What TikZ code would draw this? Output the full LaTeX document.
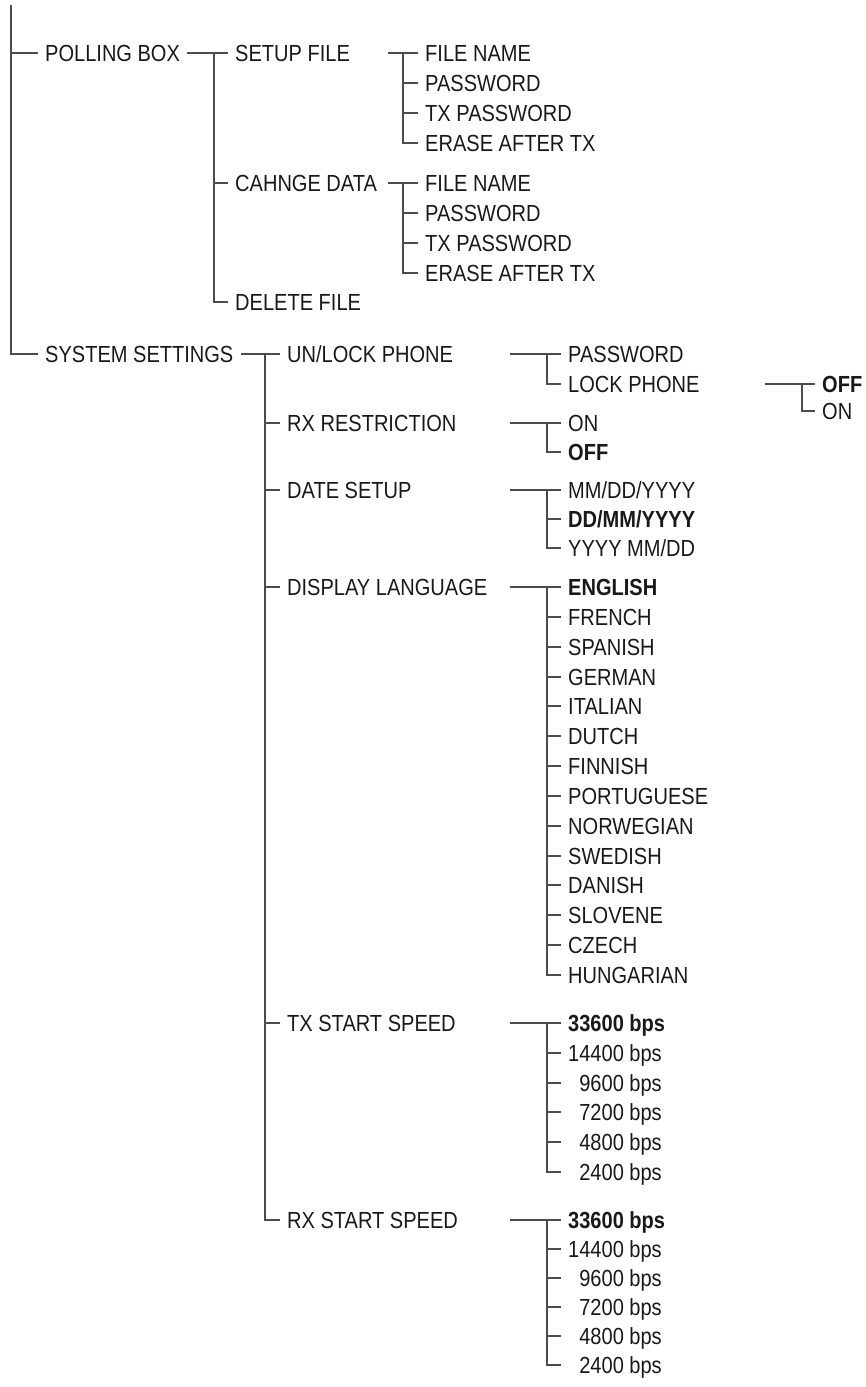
\documentclass[tikz,border=0pt]{standalone}
\usepackage{fontspec}
\setmainfont[FakeStretch=0.86]{Liberation Sans}
\usepackage{tikz}

\begin{document}
\begin{tikzpicture}[x=1pt, y=-1pt,
		branch/.style={draw=black!70, line width=1.2pt},
		item/.style={anchor=west, inner xsep=7pt, inner ysep=0pt, text height=16.7pt, text depth=0pt, text=black!90, font=\fontsize{23.3}{28}\selectfont}]
		\useasboundingbox (0,0) rectangle (865,1387);
		\coordinate (top) at (11,5);
		\coordinate (v2) at (214,0);
		\coordinate (s3) at (388,0);
		\coordinate (v3) at (403,0);
		\coordinate (v4) at (265,0);
		\coordinate (s5) at (510,0);
		\coordinate (v5) at (547,0);
		\coordinate (s6) at (765,0);
		\coordinate (v6) at (802,0);
		\node[item] (pb) at (38,53) {POLLING BOX};
		\node[item] (sf) at (228,53) {SETUP FILE};
		\node[item] (cd) at (228,183) {CAHNGE DATA};
		\node[item] (df) at (228,302) {DELETE FILE};
		\node[item] (fn1) at (418,53) {FILE NAME};
		\node[item] (pw1) at (418,83) {PASSWORD};
		\node[item] (tp1) at (418,113) {TX PASSWORD};
		\node[item] (ea1) at (418,143) {ERASE AFTER TX};
		\node[item] (fn2) at (418,183) {FILE NAME};
		\node[item] (pw2) at (418,213) {PASSWORD};
		\node[item] (tp2) at (418,243) {TX PASSWORD};
		\node[item] (ea2) at (418,273) {ERASE AFTER TX};
		\node[item] (ss) at (38,354) {SYSTEM SETTINGS};
		\node[item] (ul) at (280,354) {UN/LOCK PHONE};
		\node[item] (rr) at (280,423) {RX RESTRICTION};
		\node[item] (ds) at (280,490) {DATE SETUP};
		\node[item] (dl) at (280,587) {DISPLAY LANGUAGE};
		\node[item] (ts) at (280,1023) {TX START SPEED};
		\node[item] (rs) at (280,1220) {RX START SPEED};
		\node[item] (pw3) at (561,354) {PASSWORD};
		\node[item] (lk) at (561,384) {LOCK PHONE};
		\node[item] (lkoff) at (815,384) {\textbf{OFF}};
		\node[item] (lkon) at (815,411) {ON};
		\node[item] (rron) at (561,423) {ON};
		\node[item] (rroff) at (561,452) {\textbf{OFF}};
		\node[item] (d1) at (561,490) {MM/DD/YYYY};
		\node[item] (d2) at (561,519) {\textbf{DD/MM/YYYY}};
		\node[item] (d3) at (561,548) {YYYY MM/DD};
		\node[item] (lg1) at (561,587) {\textbf{ENGLISH}};
		\node[item] (lg2) at (561,617) {FRENCH};
		\node[item] (lg3) at (561,647) {SPANISH};
		\node[item] (lg4) at (561,677) {GERMAN};
		\node[item] (lg5) at (561,706) {ITALIAN};
		\node[item] (lg6) at (561,736) {DUTCH};
		\node[item] (lg7) at (561,766) {FINNISH};
		\node[item] (lg8) at (561,796) {PORTUGUESE};
		\node[item] (lg9) at (561,826) {NORWEGIAN};
		\node[item] (lg10) at (561,856) {SWEDISH};
		\node[item] (lg11) at (561,885) {DANISH};
		\node[item] (lg12) at (561,915) {SLOVENE};
		\node[item] (lg13) at (561,945) {CZECH};
		\node[item] (lg14) at (561,975) {HUNGARIAN};
		\node[item] (tx1) at (561,1023) {\textbf{33600 bps}};
		\node[item] (tx2) at (561,1053) {14400 bps};
		\node[item] (tx3) at (561,1083) {\phantom{1}9600 bps};
		\node[item] (tx4) at (561,1112) {\phantom{1}7200 bps};
		\node[item] (tx5) at (561,1142) {\phantom{1}4800 bps};
		\node[item] (tx6) at (561,1172) {\phantom{1}2400 bps};
		\node[item] (rx1) at (561,1220) {\textbf{33600 bps}};
		\node[item] (rx2) at (561,1249) {14400 bps};
		\node[item] (rx3) at (561,1278) {\phantom{1}9600 bps};
		\node[item] (rx4) at (561,1307) {\phantom{1}7200 bps};
		\node[item] (rx5) at (561,1336) {\phantom{1}4800 bps};
		\node[item] (rx6) at (561,1365) {\phantom{1}2400 bps};
		\draw[branch] (top) |- (ss.west);
		\draw[branch] (pb.west -| top) -- (pb.west);
		\draw[branch] (pb.east) -- (sf.west);
		\draw[branch] (sf.west -| v2) |- (df.west);
		\draw[branch] (cd.west -| v2) -- (cd.west);
		\draw[branch] (sf -| s3) -- (fn1.west);
		\draw[branch] (fn1.west -| v3) |- (ea1.west);
		\draw[branch] (pw1.west -| v3) -- (pw1.west);
		\draw[branch] (tp1.west -| v3) -- (tp1.west);
		\draw[branch] (cd -| s3) -- (fn2.west);
		\draw[branch] (fn2.west -| v3) |- (ea2.west);
		\draw[branch] (pw2.west -| v3) -- (pw2.west);
		\draw[branch] (tp2.west -| v3) -- (tp2.west);
		\draw[branch] (ss.east) -- (ul.west);
		\draw[branch] (ul.west -| v4) |- (rs.west);
		\draw[branch] (rr.west -| v4) -- (rr.west);
		\draw[branch] (ds.west -| v4) -- (ds.west);
		\draw[branch] (dl.west -| v4) -- (dl.west);
		\draw[branch] (ts.west -| v4) -- (ts.west);
		\draw[branch] (ul -| s5) -- (pw3.west);
		\draw[branch] (pw3.west -| v5) |- (lk.west);
		\draw[branch] (lk -| s6) -- (lkoff.west);
		\draw[branch] (lkoff.west -| v6) |- (lkon.west);
		\draw[branch] (rr -| s5) -- (rron.west);
		\draw[branch] (rron.west -| v5) |- (rroff.west);
		\draw[branch] (ds -| s5) -- (d1.west);
		\draw[branch] (d1.west -| v5) |- (d3.west);
		\draw[branch] (d2.west -| v5) -- (d2.west);
		\draw[branch] (dl -| s5) -- (lg1.west);
		\draw[branch] (lg1.west -| v5) |- (lg14.west);
		\foreach \i in {2,...,13}
			\draw[branch] (lg\i.west -| v5) -- (lg\i.west);
		\draw[branch] (ts -| s5) -- (tx1.west);
		\draw[branch] (tx1.west -| v5) |- (tx6.west);
		\draw[branch] (rs -| s5) -- (rx1.west);
		\draw[branch] (rx1.west -| v5) |- (rx6.west);
		\foreach \i in {2,...,5} {
			\draw[branch] (tx\i.west -| v5) -- (tx\i.west);
			\draw[branch] (rx\i.west -| v5) -- (rx\i.west);
		}
	\end{tikzpicture}
\end{document}
